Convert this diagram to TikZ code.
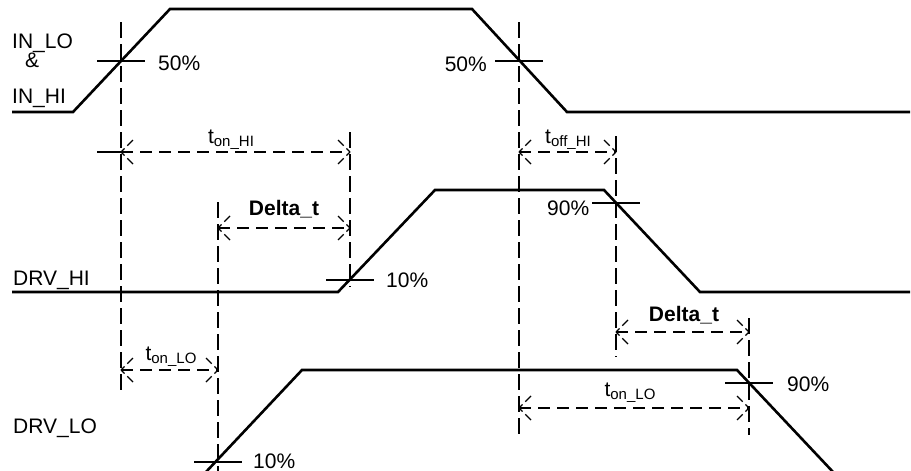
\documentclass[tikz,border=0pt]{standalone}
\usepackage{fontspec}
\setmainfont{Liberation Sans}
\begin{document}
\begin{tikzpicture}[x=1pt,y=-1pt,
  wave/.style={line width=2.6pt,line join=miter},
  guide/.style={line width=1.1pt,dash pattern=on 16pt off 6pt},
  dimline/.style={line width=1.1pt,dash pattern=on 12pt off 7pt},
  barb/.style={line width=1.1pt,dash pattern=on 5pt off 4pt on 9pt},
  tick/.style={line width=1.1pt},
  lbl/.style={inner sep=0pt,font=\fontsize{21}{25}\selectfont},
]
\useasboundingbox (0,0) rectangle (911,471);
\newcommand{\subt}[1]{\raisebox{-0.35ex}{\fontsize{15}{17}\selectfont #1}}
\newcommand{\dimln}[2]{%
  \draw[dimline] (#1) -- (#2);
  \draw[barb] (#1) -- ++(12,-12) (#1) -- ++(12,12);
  \draw[barb] (#2) -- ++(-12,-12) (#2) -- ++(-12,12);}

% ---- waveform corner points
\coordinate (in0) at (12,112);
\coordinate (in1) at (73,112);
\coordinate (in2) at (170,9);
\coordinate (in3) at (472,9);
\coordinate (in4) at (567,112);
\coordinate (in5) at (910,112);
\coordinate (hi0) at (12,292);
\coordinate (hi1) at (338,292);
\coordinate (hi2) at (435,190);
\coordinate (hi3) at (604,190);
\coordinate (hi4) at (700,292);
\coordinate (hi5) at (910,292);
\coordinate (lo0) at (205,473);
\coordinate (lo1) at (302,370);
\coordinate (lo2) at (737,370);
\coordinate (lo3) at (834,473);

\draw[wave] (in0) -- (in1) -- (in2) -- (in3) -- (in4) -- (in5);
\draw[wave] (hi0) -- (hi1) -- (hi2) -- (hi3) -- (hi4) -- (hi5);
\draw[wave] (lo0) -- (lo1) -- (lo2) -- (lo3);

% ---- vertical guide lines
\coordinate (g1t) at (121,22);  \coordinate (g1b) at (121,395);
\coordinate (g2t) at (519,22);  \coordinate (g2b) at (519,435);
\coordinate (g3t) at (350,132); \coordinate (g3b) at (350,287);
\coordinate (g4t) at (218,202); \coordinate (g4b) at (218,471);
\coordinate (g5t) at (616,136); \coordinate (g5b) at (616,357);
\coordinate (g6t) at (749,318); \coordinate (g6b) at (749,435);
\foreach \g in {1,...,6} {\draw[guide] (g\g t) -- (g\g b);}

% ---- level ticks at crossings
\coordinate (c1) at (121,61);  \coordinate (c2) at (519,61);
\coordinate (c3) at (350,280); \coordinate (c4) at (616,203);
\coordinate (c5) at (218,462); \coordinate (c6) at (749,383);
\foreach \k in {1,...,6} {\draw[tick] ([xshift=-24pt]c\k) -- ([xshift=24pt]c\k);}

% ---- dimension arrows
\coordinate (d1a) at (121,152); \coordinate (d1b) at (350,152);
\coordinate (d1x) at (97,152);
\draw[tick] (d1x) -- (d1a);
\dimln{d1a}{d1b}
\coordinate (d2a) at (218,228); \coordinate (d2b) at (350,228);
\dimln{d2a}{d2b}
\coordinate (d3a) at (519,152); \coordinate (d3b) at (616,152);
\dimln{d3a}{d3b}
\coordinate (d4a) at (616,332); \coordinate (d4b) at (749,332);
\dimln{d4a}{d4b}
\coordinate (d5a) at (121,370); \coordinate (d5b) at (218,370);
\dimln{d5a}{d5b}
\coordinate (d6a) at (519,408); \coordinate (d6b) at (749,408);
\dimln{d6a}{d6b}

% ---- labels
\node[lbl,anchor=base west] (lin1) at (12,48) {IN\_LO};
\node[lbl,anchor=base west] (lamp) at (25,67) {\&};
\node[lbl,anchor=base west] (lin2) at (12,103) {IN\_HI};
\node[lbl,anchor=base west] (ldhi) at (13,285) {DRV\_HI};
\node[lbl,anchor=base west] (ldlo) at (13,433) {DRV\_LO};

\node[lbl,anchor=base west] (p1) at (158,70) {50\%};
\node[lbl,anchor=base east] (p2) at (487,71) {50\%};
\node[lbl,anchor=base west] (p3) at (386,287) {10\%};
\node[lbl,anchor=base west] (p4) at (547,215) {90\%};
\node[lbl,anchor=base west] (p5) at (253,468) {10\%};
\node[lbl,anchor=base west] (p6) at (787,391) {90\%};

\node[lbl,anchor=base] (t1) at (231,143) {t\subt{on\_HI}};
\node[lbl,anchor=base] (t2) at (568,143) {t\subt{off\_HI}};
\node[lbl,anchor=base] (t3) at (171,360) {t\subt{on\_LO}};
\node[lbl,anchor=base] (t4) at (630,396) {t\subt{on\_LO}};
\node[lbl,anchor=base,font=\fontsize{21}{25}\selectfont\bfseries] (dt1) at (284,215) {Delta\_t};
\node[lbl,anchor=base,font=\fontsize{21}{25}\selectfont\bfseries] (dt2) at (684,321) {Delta\_t};
\end{tikzpicture}
\end{document}
